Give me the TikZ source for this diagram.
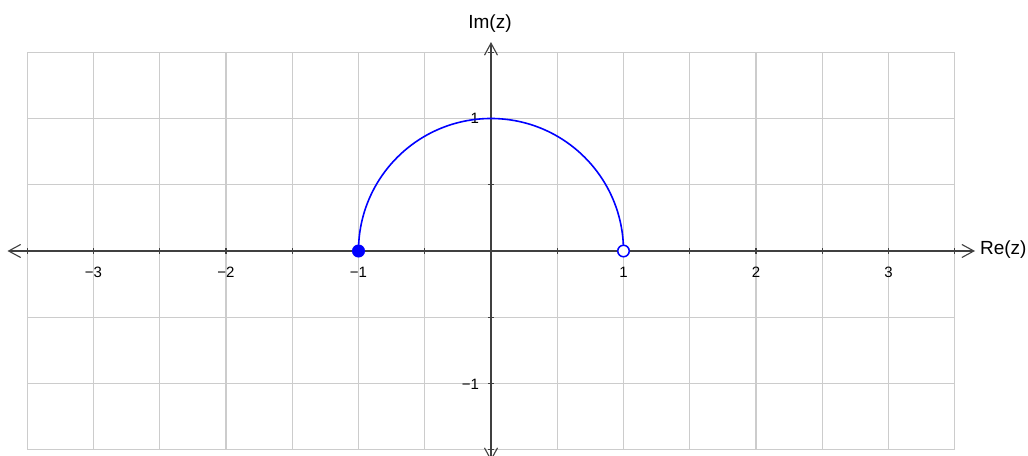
\documentclass[tikz,border=0pt]{standalone}
\usepackage{fontspec}
\setmainfont{Liberation Sans}
\usetikzlibrary{arrows.meta}
\begin{document}
\begin{tikzpicture}[x=132.5pt,y=132.5pt,
  gridline/.style={draw=black!20, line width=1.1pt},
  axisline/.style={draw=black!75, line width=1.1pt},
  barb/.style={{Straight Barb[length=12pt,width=13pt,line width=1.1pt]}-{Straight Barb[length=12pt,width=13pt,line width=1.1pt]}},
  tickmark/.style={draw=black!75, line width=1.1pt},
  ticklab/.style={font=\fontsize{15}{15}\selectfont, inner sep=0pt},
  axlab/.style={font=\fontsize{19}{19}\selectfont, inner sep=0pt},
  curve/.style={draw=blue, line width=1.6pt},
  dot/.style={circle, draw=blue, line width=1.5pt, minimum size=11.5pt, inner sep=0pt}
]
\clip (-3.70566,-1.54717) rectangle (4.05283,1.89434);
\fill[white] (-3.70566,-1.54717) rectangle (4.05283,1.89434);
% grid
\draw[gridline] (-3.5,-1.5) grid[step=0.5] (3.5,1.5);
% axes
\coordinate (xl) at (-3.649,0);
\coordinate (xr) at (3.653,0);
\coordinate (yb) at (0,-1.585);
\coordinate (yt) at (0,1.577);
\draw[axisline,barb] (xl) -- (xr);
\draw[axisline,barb] (yb) -- (yt);
% ticks
\foreach \i in {-3.5,-3,...,3.5} \draw[tickmark] (\i,-0.0226) -- (\i,0.0226);
\foreach \j in {-1.5,-1,...,1.5} \draw[tickmark] (-0.0226,\j) -- (0.0226,\j);
% tick labels
\node[ticklab] (lxm3) at (-3,-0.1585) {−3};
\node[ticklab] (lxm2) at (-2,-0.1585) {−2};
\node[ticklab] (lxm1) at (-1,-0.1585) {−1};
\node[ticklab] (lx1) at (1,-0.1585) {1};
\node[ticklab] (lx2) at (2,-0.1585) {2};
\node[ticklab] (lx3) at (3,-0.1585) {3};
\node[ticklab,anchor=east] (ly1) at (-0.09,1) {1};
\node[ticklab,anchor=east] (lym1) at (-0.09,-1.004) {−1};
% axis labels
\node[axlab] (im) at (-0.0075,1.713) {Im(z)};
\node[axlab,anchor=west] (re) at (3.69,0.0075) {Re(z)};
% curve
\draw[curve] (1,0) arc[start angle=0,end angle=180,radius=1];
\node[dot,fill=blue] (pL) at (-1,0) {};
\node[dot,fill=white] (pR) at (1,0) {};
\end{tikzpicture}
\end{document}
